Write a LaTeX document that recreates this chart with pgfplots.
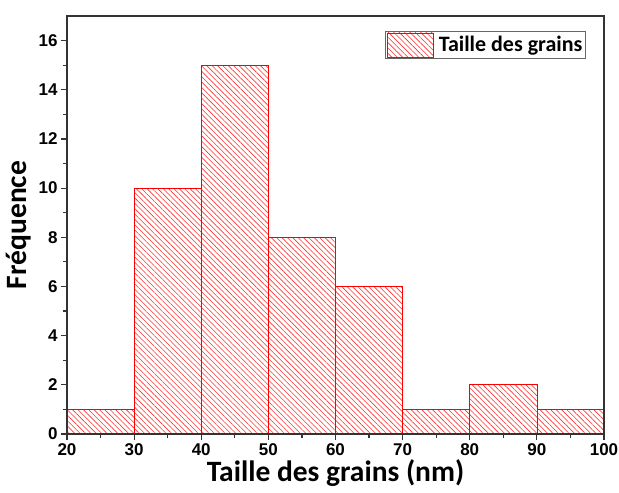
\documentclass[border=0pt]{standalone}
\usepackage{fontspec}
\setmainfont{Carlito}
\newfontfamily\arialf{Liberation Sans}[BoldFont={Liberation Sans Bold}]
\usepackage{pgfplots}
\pgfplotsset{compat=1.18}
\usetikzlibrary{patterns.meta}
\begin{document}
\begin{tikzpicture}
\begin{axis}[
  name=ax,
  scale only axis,
  axis on top,
  width=537pt, height=418pt,
  xmin=20, xmax=100, ymin=0, ymax=17,
  xtick={20,30,...,100}, ytick={0,2,...,16},
  minor xtick={25,35,...,95}, minor ytick={1,3,...,15},
  tick align=outside, xtick pos=bottom, ytick pos=left,
  major tick length=6pt, minor tick length=3.5pt,
  tick style={line width=1.2pt, black!80},
  axis line style={line width=1.6pt, black!80},
  /pgf/number format/assume math mode=true,
  tick label style={font=\fontsize{17}{20}\arialf\bfseries},
  xlabel={Taille des grains (nm)},
  ylabel={Fréquence},
  label style={font=\fontsize{29.5}{34}\selectfont\bfseries},
  xlabel style={at={(0.5,0)}, anchor=north, yshift=-22pt},
  ylabel style={at={(0,0.5)}, anchor=south, rotate=0, yshift=32pt},
  legend style={at={(0.967,0.965)}, anchor=north east, draw=black!60, line width=0.8pt,
    font=\fontsize{22}{26}\selectfont\bfseries, inner sep=1.5pt,
    /tikz/every odd column/.append style={column sep=3pt}},
  legend image code/.code={\draw[#1,pattern={Lines[angle=-45,distance=3.8pt,line width=0.6pt]},pattern color=red!80] (0pt,-12pt) rectangle (46pt,12pt);},
]
\addplot[ybar interval, draw=red, line width=0.7pt, fill=none,
  pattern={Lines[angle=-45,distance=3.8pt,line width=0.6pt]}, pattern color=red!80]
  coordinates {(20,1)(30,10)(40,15)(50,8)(60,6)(70,1)(80,2)(90,1)(100,1)};
\addlegendentry{Taille des grains}
\end{axis}
\pgfresetboundingbox
\path[use as bounding box] ([shift={(-67pt,-59pt)}]ax.south west) rectangle ([shift={(15pt,16pt)}]ax.north east);
\end{tikzpicture}
\end{document}
